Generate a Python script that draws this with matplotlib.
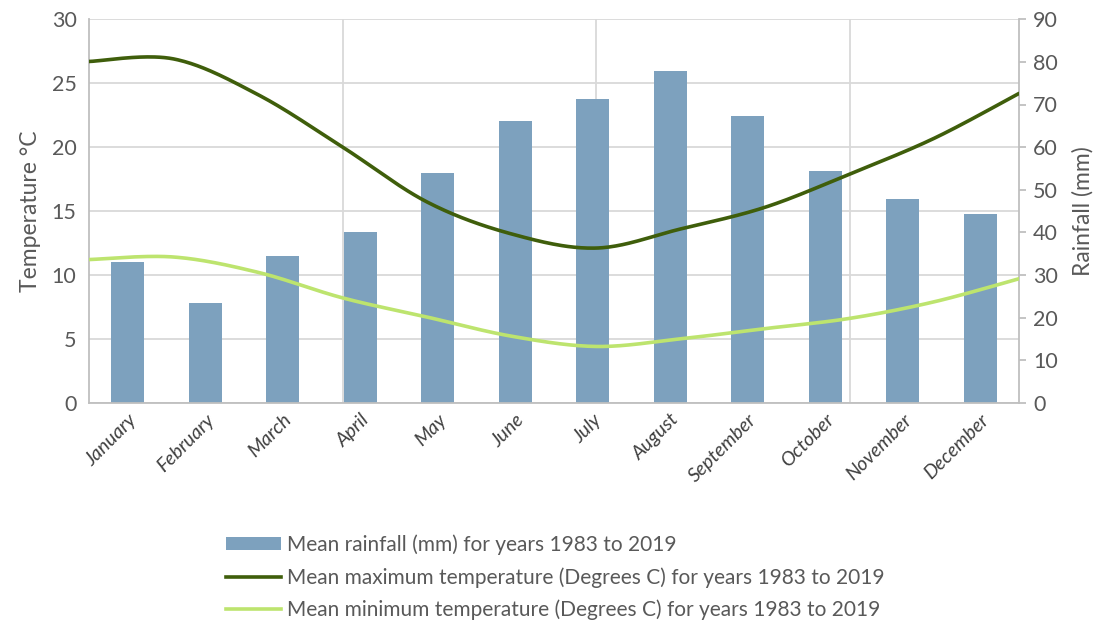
import numpy as np
import matplotlib.pyplot as plt
from matplotlib.patches import Patch
from matplotlib.lines import Line2D

plt.rcParams['font.family'] = ['Lato', 'DejaVu Sans']

months = ["January", "February", "March", "April", "May", "June",
          "July", "August", "September", "October", "November", "December"]
rainfall_mm = [33.0, 23.5, 34.4, 40.0, 53.9, 66.1, 71.4, 77.9, 67.2, 54.5, 47.8, 44.4]
max_temp_c = [26.7, 26.9, 24.1, 20.0, 15.7, 13.2, 12.1, 13.6, 15.3, 17.9, 20.7, 24.2]
min_temp_c = [11.2, 11.4, 10.2, 8.2, 6.7, 5.2, 4.4, 5.0, 5.8, 6.6, 7.9, 9.7]

bar_color = "#7da1be"
max_color = "#3f5e0b"
min_color = "#bde46e"
grid_color = "#d9d9d9"
text_color = "#595959"


def smooth(y, n=40):
    # Catmull-Rom style smoothing, same as spreadsheet "smoothed line"
    y = np.asarray(y, dtype=float)
    x = np.arange(len(y), dtype=float)
    px = np.concatenate([[x[0]], x, [x[-1]]])
    py = np.concatenate([[y[0]], y, [y[-1]]])
    xs, ys = [], []
    t = np.linspace(0, 1, n)
    for i in range(1, len(px) - 2):
        p0, p1, p2, p3 = px[i - 1], px[i], px[i + 1], px[i + 2]
        q0, q1, q2, q3 = py[i - 1], py[i], py[i + 1], py[i + 2]
        c1x, c2x = p1 + (p2 - p0) / 6, p2 - (p3 - p1) / 6
        c1y, c2y = q1 + (q2 - q0) / 6, q2 - (q3 - q1) / 6
        b0, b1, b2, b3 = (1 - t) ** 3, 3 * t * (1 - t) ** 2, 3 * t ** 2 * (1 - t), t ** 3
        xs.append(b0 * p1 + b1 * c1x + b2 * c2x + b3 * p2)
        ys.append(b0 * q1 + b1 * c1y + b2 * c2y + b3 * q2)
    return np.concatenate(xs), np.concatenate(ys)


fig = plt.figure(figsize=(11.06, 6.2), dpi=100)
rect = [89 / 1106, 1 - 402.7 / 620, 930 / 1106, 383.4 / 620]

# bottom layer: temperature scale + gridlines
ax_g = fig.add_axes(rect)
ax_g.set_xlim(0, len(months) - 1)
ax_g.set_ylim(0, 30)
ax_g.set_yticks(np.arange(0, 31, 5))
ax_g.set_xticks([3, 6, 9])
ax_g.tick_params(axis='x', length=0, labelbottom=False)
ax_g.tick_params(axis='y', length=0, labelsize=15.5, labelcolor=text_color, pad=9)
ax_g.grid(True, color=grid_color, linewidth=1.3)
for s in ax_g.spines.values():
    s.set_visible(False)
ax_g.spines['left'].set_visible(True)
ax_g.spines['left'].set_color("#bfbfbf")
ax_g.spines['left'].set_linewidth(1.3)
ax_g.set_ylabel("Temperature °C", fontsize=16.5, color=text_color, labelpad=8)

# middle layer: rainfall bars on the right axis
ax_b = fig.add_axes(rect)
ax_b.patch.set_visible(False)
ax_b.bar(np.arange(len(months)), rainfall_mm, width=0.43, color=bar_color, zorder=2)
ax_b.set_xlim(-0.5, len(months) - 0.5)
ax_b.set_ylim(0, 90)
ax_b.yaxis.tick_right()
ax_b.yaxis.set_label_position("right")
ax_b.set_yticks(np.arange(0, 91, 10))
ax_b.tick_params(axis='y', direction='out', length=5, width=1.3, color="#bfbfbf",
                 labelsize=15.5, labelcolor=text_color, pad=5)
ax_b.set_xticks(np.arange(len(months)))
ax_b.set_xticklabels(months, rotation=45, ha='right', va='top', rotation_mode='anchor',
                     fontstyle='italic', fontsize=14, color="#404040")
ax_b.tick_params(axis='x', length=0, pad=6)
for name in ['top', 'left']:
    ax_b.spines[name].set_visible(False)
for name in ['right', 'bottom']:
    ax_b.spines[name].set_color("#bfbfbf")
    ax_b.spines[name].set_linewidth(1.3)
ax_b.set_ylabel("Rainfall (mm)", fontsize=16.5, color=text_color, labelpad=10)

# top layer: smoothed temperature lines
ax_l = fig.add_axes(rect)
ax_l.patch.set_visible(False)
ax_l.set_xlim(0, len(months) - 1)
ax_l.set_ylim(0, 30)
ax_l.axis('off')
xs, ys = smooth(max_temp_c)
ax_l.plot(xs, ys, color=max_color, linewidth=2.6, solid_capstyle='round')
xs, ys = smooth(min_temp_c)
ax_l.plot(xs, ys, color=min_color, linewidth=2.6, solid_capstyle='round')

handles = [
    Patch(facecolor=bar_color, edgecolor='none'),
    Line2D([], [], color=max_color, linewidth=2.6),
    Line2D([], [], color=min_color, linewidth=2.6),
]
labels = [
    "Mean rainfall (mm) for years 1983 to 2019",
    "Mean maximum temperature (Degrees C) for years 1983 to 2019",
    "Mean minimum temperature (Degrees C) for years 1983 to 2019",
]
fig.legend(handles, labels, loc='upper left', bbox_to_anchor=(216 / 1106, 1 - 524 / 620),
           frameon=False, fontsize=15, labelcolor=text_color, handlelength=2.6,
           handleheight=0.6, handletextpad=0.3, labelspacing=0.58, borderpad=0)

fig.savefig("out.png", dpi=100)
